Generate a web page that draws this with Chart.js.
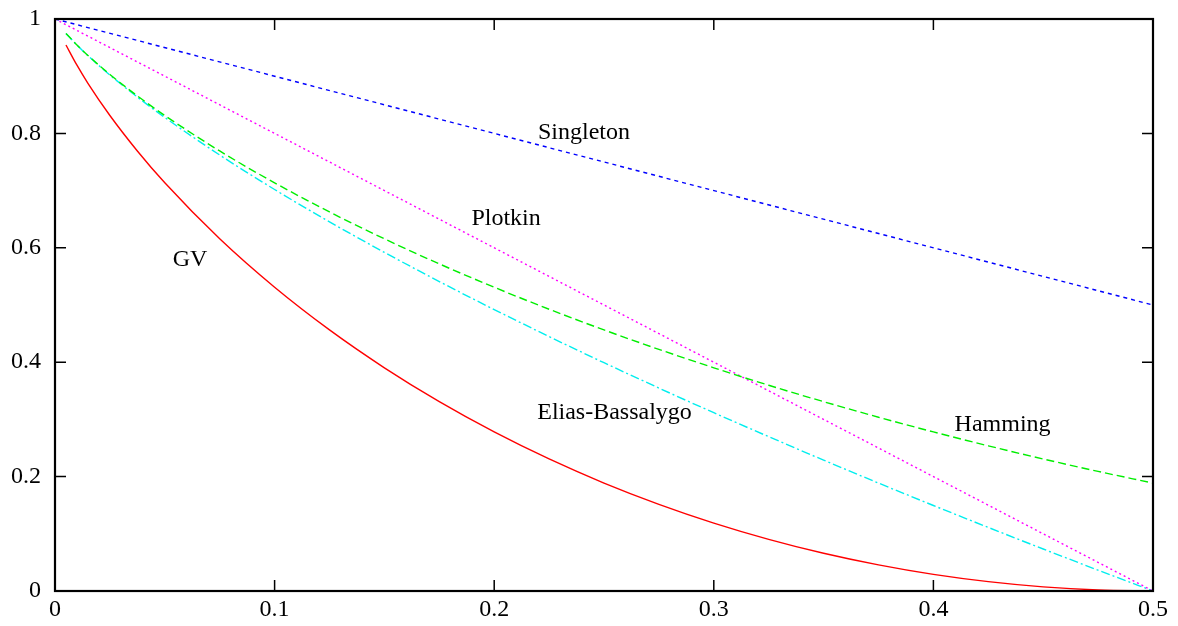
<!DOCTYPE html>
<html>
<head>
<meta charset="utf-8">
<script src="https://cdn.jsdelivr.net/npm/chart.js@4.4.1/dist/chart.umd.min.js"></script>
<style>
  body { margin: 0; background: #fff; }
</style>
</head>
<body>
<canvas id="grafico" width="1178" height="626"></canvas>
<script>
// valores de x para las curvas
var valoresX = [0.005, 0.01, 0.015, 0.025, 0.0375, 0.05, 0.075, 0.1, 0.125, 0.15, 0.175, 0.2, 0.225, 0.25,
    0.275, 0.3, 0.325, 0.35, 0.375, 0.4, 0.425, 0.45, 0.475, 0.5];

var gv = [0.9546, 0.9192, 0.8876, 0.8313, 0.7693, 0.7136, 0.6157, 0.5310, 0.4564, 0.3902, 0.3310, 0.2781, 0.2308,
    0.1887, 0.1515, 0.1187, 0.0903, 0.0659, 0.0456, 0.0290, 0.0163, 0.0072, 0.0018, 0];
var hamming = [0.9748, 0.9546, 0.9363, 0.9031, 0.8656, 0.8313, 0.7693, 0.7136, 0.6627, 0.6157, 0.5719, 0.5310,
    0.4926, 0.4564, 0.4224, 0.3902, 0.3597, 0.3310, 0.3038, 0.2781, 0.2538, 0.2308, 0.2091, 0.1887];
var eliasBassalygo = [0.9747, 0.9544, 0.9359, 0.9021, 0.8636, 0.8279, 0.7622, 0.7019, 0.6454, 0.5920, 0.5410,
    0.4920, 0.4448, 0.3991, 0.3548, 0.3117, 0.2698, 0.2288, 0.1887, 0.1495, 0.1111, 0.0734, 0.0364, 0];

var singletonX = [0, 0.5];
var singletonY = [1, 0.5];
var plotkinX = [0, 0.5];
var plotkinY = [1, 0];

var ticksX = [0, 0.1, 0.2, 0.3, 0.4, 0.5];
var ticksY = [0, 0.2, 0.4, 0.6, 0.8, 1];

// nombres de las curvas y donde van escritos
var nombres = ['Singleton', 'Plotkin', 'GV', 'Elias-Bassalygo', 'Hamming'];
var nombresX = [0.2409, 0.2054, 0.0615, 0.2548, 0.4315];
var nombresY = [0.802, 0.650, 0.580, 0.312, 0.291];

function puntos(xs, ys) {
    var res = [];
    for (var i = 0; i < xs.length; i++) {
        res.push({ x: xs[i], y: ys[i] });
    }
    return res;
}

var fuente = '"Liberation Serif", "Times New Roman", serif';

// marco, marcas hacia dentro y nombres de las curvas
var marco = {
    id: 'marco',
    afterDatasetsDraw: function (chart) {
        var ctx = chart.ctx;
        var a = chart.chartArea;
        var sx = chart.scales.x;
        var sy = chart.scales.y;
        ctx.save();
        ctx.strokeStyle = '#000';
        ctx.lineWidth = 1.5;
        ticksX.forEach(function (v) {
            var px = sx.getPixelForValue(v);
            ctx.beginPath();
            ctx.moveTo(px, a.bottom); ctx.lineTo(px, a.bottom - 11);
            ctx.moveTo(px, a.top); ctx.lineTo(px, a.top + 11);
            ctx.stroke();
        });
        ticksY.forEach(function (v) {
            var py = sy.getPixelForValue(v);
            ctx.beginPath();
            ctx.moveTo(a.left, py); ctx.lineTo(a.left + 11, py);
            ctx.moveTo(a.right, py); ctx.lineTo(a.right - 11, py);
            ctx.stroke();
        });
        ctx.lineWidth = 2.2;
        ctx.strokeRect(a.left, a.top, a.right - a.left, a.bottom - a.top);

        ctx.fillStyle = '#000';
        ctx.font = '24px ' + fuente;
        ctx.textAlign = 'center';
        ctx.textBaseline = 'middle';
        for (var i = 0; i < nombres.length; i++) {
            ctx.fillText(nombres[i], sx.getPixelForValue(nombresX[i]), sy.getPixelForValue(nombresY[i]));
        }
        ctx.restore();
    }
};

var ctx = document.getElementById('grafico');
var grafico = new Chart(ctx, {
    type: 'line',
    data: {
        datasets: [
            { label: 'GV', data: puntos(valoresX, gv), borderColor: '#ff0000', borderWidth: 1.4,
              cubicInterpolationMode: 'monotone' },
            { label: 'Hamming', data: puntos(valoresX, hamming), borderColor: '#00ee00', borderWidth: 1.4,
              borderDash: [8, 4], cubicInterpolationMode: 'monotone' },
            { label: 'Singleton', data: puntos(singletonX, singletonY), borderColor: '#0000ff', borderWidth: 1.4,
              borderDash: [4, 4] },
            { label: 'Plotkin', data: puntos(plotkinX, plotkinY), borderColor: '#ff00ff', borderWidth: 1.4,
              borderDash: [2, 3] },
            { label: 'Elias-Bassalygo', data: puntos(valoresX, eliasBassalygo), borderColor: '#00eeee',
              borderWidth: 1.4, borderDash: [9, 3, 2, 3], cubicInterpolationMode: 'monotone' }
        ]
    },
    options: {
        responsive: false,
        animation: false,
        events: [],
        elements: { point: { radius: 0 } },
        layout: { padding: { top: 19, right: 25, left: 0, bottom: 0 } },
        plugins: { legend: { display: false }, tooltip: { enabled: false } },
        scales: {
            x: {
                type: 'linear', min: 0, max: 0.5,
                grid: { display: false, drawTicks: false },
                border: { display: false },
                afterFit: function (s) { s.height = 35; s.paddingLeft = 0; s.paddingRight = 0; },
                afterBuildTicks: function (s) { s.ticks = ticksX.map(function (v) { return { value: v }; }); },
                ticks: { color: '#000', padding: 4, maxRotation: 0, font: { family: fuente, size: 24 },
                    callback: function (v) { return String(v); } }
            },
            y: {
                type: 'linear', min: 0, max: 1,
                grid: { display: false, drawTicks: false },
                border: { display: false },
                afterFit: function (s) { s.width = 55; s.paddingTop = 0; s.paddingBottom = 0; },
                afterBuildTicks: function (s) { s.ticks = ticksY.map(function (v) { return { value: v }; }); },
                ticks: { color: '#000', padding: 14, font: { family: fuente, size: 24 },
                    callback: function (v) { return String(v); } }
            }
        }
    },
    plugins: [marco]
});
</script>
</body>
</html>
